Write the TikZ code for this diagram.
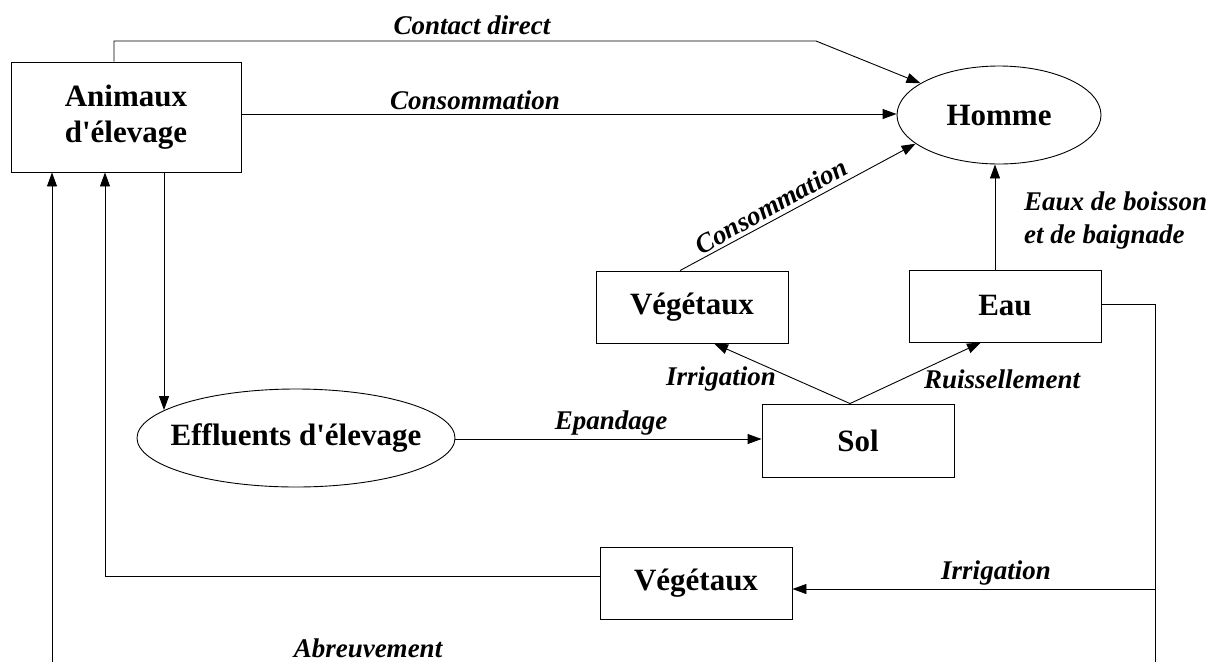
\documentclass[tikz,border=0pt]{standalone}
\usepackage{fontspec}
\setmainfont{Liberation Serif}
\usetikzlibrary{shapes.geometric,arrows.meta}
\begin{document}
\begin{tikzpicture}[x=1pt,y=-1pt,
  boxnode/.style={draw,line width=0.9pt,rectangle,inner sep=0pt,font=\fontsize{31}{35.5}\selectfont\bfseries,align=center},
  ellnode/.style={draw,line width=0.9pt,ellipse,inner sep=0pt,font=\fontsize{31}{35.5}\selectfont\bfseries},
  lbl/.style={inner sep=0pt,font=\fontsize{27}{33}\selectfont\bfseries\itshape},
  conn/.style={line width=0.9pt},
  arr/.style={line width=0.9pt,-{Triangle[length=14pt,width=10pt]}}]
\useasboundingbox (0,0) rectangle (1216,662);
% nodes
\node[boxnode,minimum width=230,minimum height=110] (anim) at (126,117) {Animaux\\d\textquotesingle élevage};
\node[ellnode,minimum width=204,minimum height=98] (homme) at (999,115) {Homme};
\node[boxnode,minimum width=192,minimum height=72] (vegU) at (692,307) {Végétaux};
\node[boxnode,minimum width=192,minimum height=72] (eau) at (1005,306) {Eau};
\node[boxnode,minimum width=192,minimum height=73] (sol) at (858,440.5) {Sol};
\node[ellnode,inner xsep=-16pt,minimum width=318,minimum height=98] (eff) at (296,438) {Effluents d\textquotesingle élevage};
\node[boxnode,minimum width=192,minimum height=72] (vegL) at (696,583) {Végétaux};
% helper coordinates
\coordinate (cdup) at (114,41);
\coordinate (cdbend) at (816,41);
\coordinate (a1) at ([xshift=38]anim.south);
\coordinate (br) at (1155,662);
\coordinate (bl) at (52,662);
\coordinate (j) at (1155,589);
% connectors
\draw[arr] ([xshift=-12]anim.north) -- (cdup) -- (cdbend) -- (homme);
\draw[arr] (anim.east |- 0,114) -- (homme.west |- 0,114);
\draw[arr] ([xshift=-12]vegU.north) -- (homme.199);
\draw[arr] ([xshift=-10]eau.north) -- ([xshift=-10]eau.north |- homme.south);
\draw[arr] ([xshift=-8]sol.north) -- ([xshift=22]vegU.south);
\draw[arr] ([xshift=-8]sol.north) -- ([xshift=-24]eau.south);
\draw[arr] (a1) -- (a1 |- eff.168);
\draw[arr] (eff.east |- 0,439) -- (sol.west |- 0,439);
\draw[conn] ([yshift=2]eau.east) -| (br);
\draw[arr] (j) -- (j -| vegL.east);
\draw[arr] ([yshift=7]vegL.west) -| ([xshift=-21]anim.south);
\draw[arr] (bl) -- (bl |- anim.south);
% labels
\node[lbl] (lcd) at (472,25) {Contact direct};
\node[lbl] (lcons) at (475,100) {Consommation};
\node[lbl,rotate=29] (lcons2) at (771,206) {Consommation};
\node[lbl,anchor=west,align=left] (leaux) at (1024,221) {Eaux de boisson\\et de baignade};
\node[lbl] (lirr1) at (721,379) {Irrigation};
\node[lbl] (lruis) at (1002,379) {Ruissellement};
\node[lbl] (lepa) at (611,423) {Epandage};
\node[lbl] (lirr2) at (996,573) {Irrigation};
\node[lbl] (labr) at (368,648) {Abreuvement};
\end{tikzpicture}
\end{document}
